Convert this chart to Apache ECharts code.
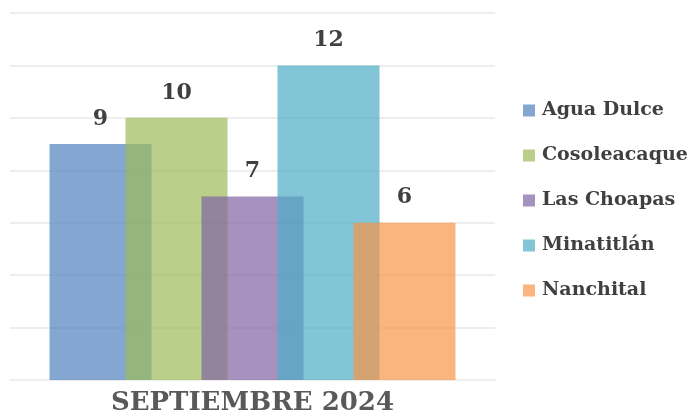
<!DOCTYPE html>
<html>
<head>
<meta charset="utf-8">
<script src="https://cdn.jsdelivr.net/npm/echarts@6/dist/echarts.min.js"></script>
<style>
  html, body { margin: 0; padding: 0; background: #fff; }
  #chart { width: 693px; height: 418px; }
</style>
</head>
<body>
<div id="chart"></div>
<script>
// data
var categories = ['SEPTIEMBRE 2024'];
var names = ['Agua Dulce', 'Cosoleacaque', 'Las Choapas', 'Minatitlán', 'Nanchital'];
var values = [9, 10, 7, 12, 6];
// office palette at 70% opacity
var colors = ['rgba(79,129,189,0.7)', 'rgba(155,187,89,0.7)', 'rgba(128,100,162,0.7)',
              'rgba(75,172,198,0.7)', 'rgba(247,150,70,0.7)'];

var txt = '#404040';
var font = '"DejaVu Serif", serif';

var series = [];
for (var i = 0; i < names.length; i++) {
    series.push({
        name: names[i],
        type: 'bar',
        data: [values[i]],
        barWidth: 102,
        barGap: '-25.5%',
        itemStyle: { color: colors[i] },
        label: {
            show: true,
            position: 'top',
            distance: 14,
            color: txt,
            fontFamily: font,
            fontWeight: 'bold',
            fontSize: 22
        }
    });
}

var chart = echarts.init(document.getElementById('chart'));
chart.setOption({
    animation: false,
    grid: { left: 10, right: 198, top: 13, bottom: 38 },
    legend: {
        orient: 'vertical',
        left: 518,
        top: 96,
        itemWidth: 12,
        itemHeight: 12,
        itemGap: 26,
        icon: 'rect',
        textStyle: { color: txt, fontFamily: font, fontWeight: 'bold', fontSize: 19, padding: [0, 0, 0, 2] },
        data: names
    },
    xAxis: {
        type: 'category',
        data: categories,
        axisLine: { lineStyle: { color: '#eeeeee', width: 2 } },
        axisTick: { show: false },
        axisLabel: {
            color: '#595959',
            fontFamily: font,
            fontWeight: 'bold',
            fontSize: 26,
            margin: 10
        }
    },
    yAxis: {
        type: 'value',
        min: 0,
        max: 14,
        interval: 2,
        axisLabel: { show: false },
        axisLine: { show: false },
        axisTick: { show: false },
        splitLine: { lineStyle: { color: '#eeeeee', width: 2 } }
    },
    series: series
});
</script>
</body>
</html>
